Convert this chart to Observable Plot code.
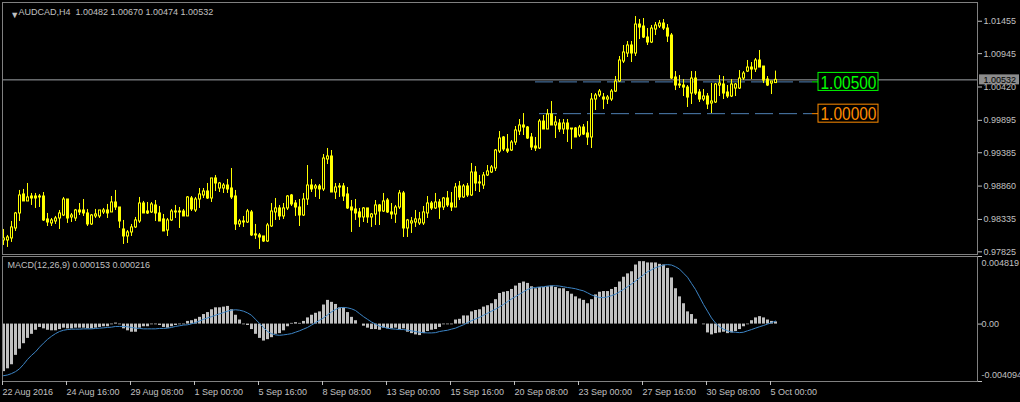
<!DOCTYPE html>
<html>
<head>
<meta charset="utf-8">
<script src="https://cdn.jsdelivr.net/npm/d3@7"></script>
<script src="https://cdn.jsdelivr.net/npm/@observablehq/plot@0.6"></script>
<style>
  html, body { margin: 0; padding: 0; background: #000; }
  #chart { position: relative; width: 1020px; height: 402px; background: #000; overflow: hidden; }
  #chart svg { display: block; }
</style>
</head>
<body>
<div id="chart"></div>
<script>
// ---------- DATA (AUDCAD, H4) ----------
const symbol = "AUDCAD";
const timeframe = "H4";

const open = [
0.98004,0.98004,0.98036,0.98193,0.98429,0.98728,0.98618,0.98696,0.98696,0.98696,
0.98696,0.98335,0.98272,0.98303,0.98350,0.98397,0.98649,0.98366,0.98350,0.98476,
0.98476,0.98429,0.98256,0.98382,0.98382,0.98445,0.98476,0.98445,0.98602,0.98523,
0.98177,0.98067,0.98130,0.98209,0.98303,0.98586,0.98460,0.98445,0.98555,0.98429,
0.98335,0.98161,0.98319,0.98445,0.98460,0.98460,0.98382,0.98665,0.98476,0.98649,
0.98712,0.98775,0.98665,0.98980,0.98822,0.98822,0.98869,0.98822,0.98696,0.98256,
0.98287,0.98287,0.98445,0.98083,0.98083,0.98067,0.97988,0.98224,0.98445,0.98508,
0.98382,0.98508,0.98712,0.98586,0.98523,0.98397,0.98649,0.98869,0.98822,0.98854,
0.98807,0.99279,0.99326,0.98759,0.98838,0.98854,0.98728,0.98523,0.98492,0.98445,
0.98366,0.98508,0.98366,0.98413,0.98555,0.98460,0.98633,0.98445,0.98413,0.98523,
0.98744,0.98193,0.98272,0.98287,0.98272,0.98272,0.98429,0.98586,0.98508,0.98602,
0.98523,0.98665,0.98586,0.98523,0.98854,0.98681,0.98854,0.98712,0.99074,0.98901,
0.98869,0.99027,0.99074,0.99137,0.99404,0.99625,0.99436,0.99420,0.99546,0.99719,
0.99814,0.99782,0.99625,0.99483,0.99452,0.99876,0.99751,0.99987,0.99814,0.99845,
0.99751,0.99845,0.99766,0.99766,0.99656,0.99782,0.99688,0.99625,1.00223,1.00286,
1.00254,1.00223,1.00223,1.00348,1.00506,1.00821,1.00947,1.01073,1.00947,1.01403,
1.01372,1.01199,1.01120,1.01325,1.01372,1.01419,1.01340,1.01230,1.00569,1.00443,
1.00443,1.00411,1.00317,1.00553,1.00333,1.00223,1.00270,1.00160,1.00176,1.00443,
1.00459,1.00333,1.00270,1.00396,1.00396,1.00553,1.00663,1.00726,1.00695,1.00837,
1.00742,1.00537,1.00474,1.00482];

const high = [
0.98177,0.98083,0.98303,0.98445,0.98791,0.98807,0.98901,0.98744,0.98744,0.98728,
0.98759,0.98429,0.98350,0.98382,0.98476,0.98681,0.98649,0.98429,0.98492,0.98586,
0.98649,0.98492,0.98413,0.98492,0.98476,0.98508,0.98571,0.98696,0.98791,0.98523,
0.98319,0.98161,0.98256,0.98366,0.98681,0.98618,0.98602,0.98602,0.98633,0.98539,
0.98413,0.98350,0.98492,0.98555,0.98523,0.98492,0.98696,0.98696,0.98681,0.98822,
0.98822,0.98901,0.98980,0.99027,0.98917,0.98901,0.98964,0.99137,0.98791,0.98335,
0.98382,0.98492,0.98476,0.98256,0.98114,0.98067,0.98272,0.98586,0.98665,0.98555,
0.98586,0.98712,0.98728,0.98633,0.98649,0.98744,0.99184,0.98964,0.98885,0.98885,
0.99357,0.99452,0.99420,0.98901,0.98901,0.98901,0.98838,0.98633,0.98649,0.98508,
0.98523,0.98508,0.98429,0.98633,0.98571,0.98744,0.98665,0.98586,0.98555,0.98791,
0.98775,0.98335,0.98366,0.98476,0.98445,0.98539,0.98696,0.98618,0.98744,0.98649,
0.98681,0.98775,0.98759,0.98901,0.98932,0.98885,0.98901,0.99216,0.99168,0.99027,
0.99074,0.99184,0.99184,0.99436,0.99719,0.99640,0.99672,0.99577,0.99798,0.99908,
1.00002,0.99798,0.99688,0.99625,0.99908,0.99971,1.00065,1.00191,0.99955,0.99908,
0.99908,0.99908,0.99766,0.99782,0.99814,0.99829,0.99876,1.00317,1.00317,1.00380,
1.00317,1.00286,1.00380,1.00585,1.00900,1.01073,1.01136,1.01136,1.01529,1.01482,
1.01498,1.01340,1.01388,1.01435,1.01466,1.01482,1.01403,1.01262,1.00663,1.00600,
1.00537,1.00443,1.00663,1.00663,1.00380,1.00380,1.00317,1.00474,1.00474,1.00600,
1.00585,1.00443,1.00537,1.00474,1.00679,1.00663,1.00837,1.00805,1.00868,1.00994,
1.00742,1.00585,1.00506,1.00670];

const low = [
0.97925,0.97894,0.97973,0.98146,0.98303,0.98618,0.98618,0.98555,0.98508,0.98523,
0.98303,0.98224,0.98224,0.98256,0.98177,0.98382,0.98272,0.98287,0.98303,0.98397,
0.98382,0.98224,0.98240,0.98350,0.98350,0.98413,0.98350,0.98445,0.98476,0.98193,
0.97941,0.97957,0.98067,0.98193,0.98272,0.98429,0.98413,0.98429,0.98303,0.98303,
0.98146,0.98067,0.98303,0.98350,0.98193,0.98382,0.98382,0.98460,0.98445,0.98508,
0.98665,0.98649,0.98602,0.98775,0.98759,0.98744,0.98744,0.98649,0.98161,0.98209,
0.98209,0.98272,0.98067,0.98020,0.97862,0.97973,0.97973,0.98209,0.98319,0.98319,
0.98335,0.98476,0.98539,0.98382,0.98224,0.98382,0.98555,0.98759,0.98681,0.98649,
0.98775,0.99200,0.98759,0.98649,0.98681,0.98618,0.98492,0.98130,0.98319,0.98209,
0.98287,0.98272,0.98209,0.98240,0.98240,0.98445,0.98429,0.98335,0.98272,0.98492,
0.98051,0.98051,0.98114,0.98209,0.98240,0.98240,0.98350,0.98476,0.98492,0.98335,
0.98476,0.98523,0.98460,0.98523,0.98633,0.98665,0.98681,0.98696,0.98775,0.98759,
0.98807,0.99011,0.99058,0.99090,0.99373,0.99404,0.99373,0.99404,0.99499,0.99656,
0.99656,0.99593,0.99420,0.99404,0.99436,0.99751,0.99751,0.99814,0.99609,0.99703,
0.99672,0.99546,0.99436,0.99625,0.99625,0.99656,0.99499,0.99452,1.00050,1.00254,
1.00065,1.00144,1.00191,1.00333,1.00490,1.00789,1.00884,1.00805,1.00900,1.01167,
1.01183,1.01073,1.01104,1.01230,1.01340,1.01309,1.01120,1.00537,1.00364,1.00396,
1.00270,1.00097,1.00144,1.00286,1.00176,1.00191,1.00065,1.00002,1.00160,1.00270,
1.00223,1.00238,1.00254,1.00270,1.00380,1.00522,1.00648,1.00537,1.00648,1.00726,
1.00474,1.00427,1.00301,1.00474];

const close = [
0.98036,0.98051,0.98209,0.98429,0.98712,0.98618,0.98681,0.98665,0.98665,0.98681,
0.98319,0.98287,0.98319,0.98350,0.98429,0.98649,0.98350,0.98397,0.98476,0.98445,
0.98429,0.98256,0.98397,0.98413,0.98476,0.98476,0.98429,0.98602,0.98523,0.98303,
0.98067,0.98130,0.98209,0.98319,0.98586,0.98429,0.98429,0.98571,0.98429,0.98303,
0.98146,0.98319,0.98460,0.98460,0.98445,0.98382,0.98681,0.98492,0.98649,0.98728,
0.98775,0.98665,0.98980,0.98901,0.98901,0.98869,0.98807,0.98681,0.98256,0.98303,
0.98303,0.98460,0.98083,0.98099,0.98051,0.97988,0.98240,0.98460,0.98508,0.98382,
0.98508,0.98696,0.98571,0.98523,0.98397,0.98649,0.98869,0.98807,0.98854,0.98807,
0.99294,0.99326,0.98759,0.98838,0.98854,0.98696,0.98508,0.98476,0.98429,0.98366,
0.98508,0.98366,0.98413,0.98555,0.98460,0.98618,0.98445,0.98413,0.98523,0.98744,
0.98193,0.98319,0.98303,0.98335,0.98335,0.98445,0.98586,0.98508,0.98602,0.98523,
0.98665,0.98555,0.98523,0.98838,0.98681,0.98854,0.98712,0.99074,0.98901,0.98917,
0.99027,0.99090,0.99153,0.99420,0.99609,0.99436,0.99404,0.99546,0.99735,0.99814,
0.99782,0.99609,0.99467,0.99452,0.99876,0.99751,0.99987,0.99814,0.99861,0.99751,
0.99845,0.99751,0.99751,0.99625,0.99782,0.99672,0.99625,1.00223,1.00286,1.00348,
1.00223,1.00254,1.00348,1.00506,1.00837,1.00963,1.01073,1.00947,1.01403,1.01356,
1.01199,1.01120,1.01340,1.01388,1.01419,1.01340,1.01214,1.00553,1.00443,1.00459,
1.00411,1.00254,1.00553,1.00317,1.00223,1.00270,1.00144,1.00191,1.00459,1.00474,
1.00317,1.00270,1.00459,1.00459,1.00553,1.00632,1.00726,1.00695,1.00837,1.00726,
1.00522,1.00443,1.00506,1.00532];

// MACD(12,26,9): histogram (main) and signal line
const macdMain = [
-0.00339,-0.00319,-0.00290,-0.00223,-0.00179,-0.00140,-0.00102,-0.00073,-0.00044,-0.00024,
-0.00034,-0.00044,-0.00048,-0.00048,-0.00039,-0.00029,-0.00034,-0.00034,-0.00029,-0.00029,
-0.00029,-0.00034,-0.00034,-0.00029,-0.00024,-0.00019,-0.00019,-0.00005,0.00007,-0.00005,
-0.00034,-0.00048,-0.00058,-0.00058,-0.00029,-0.00019,-0.00019,-0.00005,-0.00005,-0.00010,
-0.00024,-0.00029,-0.00019,-0.00010,-0.00005,-0.00005,0.00019,0.00024,0.00034,0.00048,
0.00068,0.00082,0.00102,0.00116,0.00116,0.00121,0.00126,0.00102,0.00063,0.00029,
-0.00005,-0.00010,-0.00039,-0.00073,-0.00102,-0.00121,-0.00111,-0.00097,-0.00073,-0.00068,
-0.00048,-0.00019,0.00005,0.00010,0.00005,0.00019,0.00044,0.00063,0.00077,0.00087,
0.00136,0.00169,0.00155,0.00140,0.00116,0.00116,0.00082,0.00048,0.00024,0.00000,
-0.00015,-0.00029,-0.00039,-0.00039,-0.00044,-0.00029,-0.00034,-0.00034,-0.00029,-0.00039,
-0.00034,-0.00058,-0.00068,-0.00077,-0.00082,-0.00068,-0.00053,-0.00044,-0.00039,-0.00024,
-0.00005,-0.00005,-0.00005,0.00029,0.00034,0.00058,0.00058,0.00087,0.00097,0.00102,
0.00121,0.00131,0.00145,0.00174,0.00218,0.00227,0.00232,0.00247,0.00271,0.00290,
0.00300,0.00290,0.00266,0.00252,0.00261,0.00261,0.00266,0.00271,0.00261,0.00252,
0.00252,0.00232,0.00213,0.00194,0.00179,0.00169,0.00145,0.00174,0.00208,0.00227,
0.00232,0.00232,0.00247,0.00261,0.00300,0.00334,0.00358,0.00373,0.00421,0.00445,
0.00445,0.00436,0.00436,0.00436,0.00426,0.00421,0.00397,0.00329,0.00252,0.00194,
0.00145,0.00087,0.00068,0.00034,0.00000,-0.00005,-0.00063,-0.00077,-0.00068,-0.00063,
-0.00058,-0.00068,-0.00063,-0.00053,-0.00039,-0.00019,-0.00005,0.00024,0.00044,0.00053,
0.00044,0.00029,0.00019,0.000153];

const macdSignal = [
-0.00368,-0.00363,-0.00353,-0.00339,-0.00319,-0.00288,-0.00252,-0.00223,-0.00198,-0.00165,
-0.00136,-0.00109,-0.00087,-0.00068,-0.00053,-0.00044,-0.00039,-0.00036,-0.00036,-0.00036,
-0.00034,-0.00034,-0.00034,-0.00031,-0.00029,-0.00027,-0.00024,-0.00022,-0.00017,-0.00017,
-0.00017,-0.00019,-0.00024,-0.00029,-0.00031,-0.00034,-0.00034,-0.00034,-0.00034,-0.00031,
-0.00031,-0.00029,-0.00024,-0.00017,-0.00012,-0.00007,-0.00005,0.00002,0.00010,0.00022,
0.00034,0.00044,0.00053,0.00063,0.00073,0.00082,0.00092,0.00099,0.00102,0.00099,
0.00092,0.00080,0.00063,0.00034,0.00005,-0.00024,-0.00053,-0.00068,-0.00077,-0.00080,
-0.00077,-0.00073,-0.00068,-0.00058,-0.00048,-0.00036,-0.00024,-0.00007,0.00010,0.00027,
0.00044,0.00065,0.00087,0.00104,0.00116,0.00119,0.00116,0.00109,0.00097,0.00075,
0.00053,0.00034,0.00015,0.00000,-0.00015,-0.00022,-0.00029,-0.00034,-0.00036,-0.00039,
-0.00039,-0.00044,-0.00048,-0.00053,-0.00058,-0.00061,-0.00063,-0.00063,-0.00061,-0.00053,
-0.00048,-0.00044,-0.00036,-0.00029,-0.00017,-0.00005,0.00010,0.00024,0.00036,0.00048,
0.00063,0.00077,0.00092,0.00106,0.00123,0.00140,0.00160,0.00179,0.00196,0.00213,
0.00230,0.00247,0.00257,0.00261,0.00264,0.00266,0.00271,0.00273,0.00273,0.00271,
0.00266,0.00261,0.00257,0.00252,0.00244,0.00237,0.00223,0.00208,0.00198,0.00189,
0.00189,0.00194,0.00203,0.00213,0.00230,0.00247,0.00266,0.00286,0.00307,0.00329,
0.00351,0.00373,0.00387,0.00402,0.00411,0.00421,0.00424,0.00421,0.00409,0.00392,
0.00363,0.00334,0.00290,0.00247,0.00194,0.00140,0.00092,0.00044,0.00007,-0.00019,
-0.00036,-0.00048,-0.00056,-0.00058,-0.00061,-0.00058,-0.00048,-0.00039,-0.00029,-0.00019,
-0.00010,0.00000,0.00010,0.000216];

const priceTicks = [1.01455, 1.00945, 1.00420, 0.99895, 0.99385, 0.98860, 0.98335, 0.97825];
const macdRange = [-0.004094, 0.004819];
const timeTickBars = [0, 16, 32, 48, 64, 80, 96, 112, 128, 144, 160, 176, 192];
const timeTickLabels = ["22 Aug 2016", "24 Aug 16:00", "29 Aug 08:00", "1 Sep 00:00", "5 Sep 16:00",
  "8 Sep 08:00", "13 Sep 00:00", "15 Sep 16:00", "20 Sep 08:00", "23 Sep 00:00",
  "27 Sep 16:00", "30 Sep 08:00", "5 Oct 00:00"];

// Horizontal levels (price, first bar of the line, colour)
const levelPrices = [1.00500, 1.00000];
const levelStartBars = [133, 134];
const levelColors = ["#00ff00", "#ff8c00"];

// ---------- LAYOUT ----------
const FONT = "'Liberation Sans', Arial, sans-serif";
const xDomain = [-0.25, 243.5];
const priceDomain = [0.97783, 1.01750];
const lineEndBar = 202.25, boxStartBar = 203.75, boxEndBar = 218.75;
const textColor = "#c0c0c0", frameColor = "#808080";

const N = close.length;
const candles = close.map((c, i) => ({i, o: open[i], h: high[i], l: low[i], c}));
const bulls = candles.filter(d => d.c - d.o > 0.00018);
const last = candles[N - 1];
const levels = levelPrices.map((v, k) => ({v, start: levelStartBars[k], color: levelColors[k], label: v.toFixed(5)}));
const header = `${symbol},${timeframe}  ${last.o.toFixed(5)} ${last.h.toFixed(5)} ${last.l.toFixed(5)} ${last.c.toFixed(5)}`;

const levelMarks = levels.flatMap(L => [
  Plot.ruleY([L], {y: "v", x1: d => d.start, x2: () => lineEndBar, stroke: "#4f81b5", strokeDasharray: "18,6"}),
  Plot.ruleY([L], {y: "v", x1: () => lineEndBar, x2: () => boxStartBar, stroke: L.color}),
  Plot.rect([L], {x1: () => boxStartBar, x2: () => boxEndBar, y1: "v", y2: "v", insetTop: -9, insetBottom: -9, fill: "#000", stroke: L.color}),
  Plot.text([L], {x: () => (boxStartBar + boxEndBar) / 2, y: "v", text: "label", fill: L.color, fontSize: 18, dy: 1})
]);

const main = Plot.plot({
  width: 1020, height: 255,
  marginTop: 2, marginBottom: 1, marginLeft: 2, marginRight: 43,
  style: {background: "#000", color: textColor, fontFamily: FONT, fontSize: "9px", overflow: "visible"},
  x: {domain: xDomain, axis: null},
  y: {domain: priceDomain, label: null},
  marks: [
    Plot.ruleY([last.c], {stroke: "#a0a4a8"}),
    ...levelMarks,
    Plot.ruleX(candles, {x: "i", y1: "l", y2: "h", stroke: "#ffff00"}),
    Plot.rect(candles, {x1: d => d.i - 0.25, x2: d => d.i + 0.5, y1: "o", y2: "c", fill: "#ffff00", insetTop: -0.5, insetBottom: -0.5}),
    Plot.rect(bulls, {x1: d => d.i - 0.25, x2: d => d.i + 0.5, y1: "o", y2: "c", fill: "#000", insetLeft: 1, insetRight: 1, insetTop: 0.5, insetBottom: 0.5}),
    Plot.frame({stroke: frameColor}),
    Plot.axisY({anchor: "right", ticks: priceTicks, tickFormat: d => d.toFixed(5), tickSize: 4, tickPadding: 2, label: null}),
    Plot.rect([last.c], {y1: d => d, y2: d => d, insetTop: -5, insetBottom: -5, insetLeft: 977, insetRight: -42, fill: "#8c8c8c"}),
    Plot.text([last.c], {y: d => d, text: d => d.toFixed(5), frameAnchor: "right", dx: 6, textAnchor: "start", fill: "#000"}),
    Plot.text(["\u25BC"], {frameAnchor: "top-left", dx: 7.7, dy: 8.7, fontSize: 9, fill: textColor}),
    Plot.text([header], {frameAnchor: "top-left", dx: 16, dy: 6, textAnchor: "start", lineAnchor: "top", fill: textColor})
  ]
});

const macd = macdMain.map((h, i) => ({i, h, s: macdSignal[i]}));
const macdHeader = `MACD(12,26,9) ${macdMain[N - 1].toFixed(6)} ${macdSignal[N - 1].toFixed(6)}`;
const macdLabels = [
  {v: macdRange[1], t: macdRange[1].toFixed(6), dy: 7},
  {v: 0, t: "0.00", dy: 0},
  {v: macdRange[0], t: macdRange[0].toFixed(6), dy: -6}
];

const lower = Plot.plot({
  width: 1020, height: 147,
  marginTop: 1, marginBottom: 21, marginLeft: 2, marginRight: 43,
  style: {background: "#000", color: textColor, fontFamily: FONT, fontSize: "9px", overflow: "visible"},
  x: {domain: xDomain},
  y: {domain: macdRange, label: null},
  marks: [
    Plot.rect(macd, {x1: d => d.i - 0.25, x2: d => d.i + 0.5, y1: () => 0, y2: "h", fill: "#c0c0c0"}),
    Plot.line(macd, {x: "i", y: "s", stroke: "#3d85c6", strokeWidth: 1}),
    Plot.frame({stroke: frameColor}),
    Plot.axisX({anchor: "bottom", ticks: timeTickBars, tickFormat: d => timeTickLabels[timeTickBars.indexOf(d)],
      textAnchor: "start", tickSize: 4, tickPadding: 3, dx: -1, label: null}),
    Plot.axisY({anchor: "right", ticks: macdLabels.map(d => d.v), tickFormat: () => "", tickSize: 4, label: null}),
    ...macdLabels.map(L => Plot.text([L], {y: "v", text: "t", frameAnchor: "right", dx: 4, dy: L.dy, textAnchor: "start", fill: textColor})),
    Plot.text([macdHeader], {frameAnchor: "top-left", dx: 5, dy: 5.5, textAnchor: "start", lineAnchor: "top", fill: textColor})
  ]
});

const root = document.getElementById("chart");
root.appendChild(main);
root.appendChild(lower);

// condensed look of the level labels
main.querySelectorAll("text").forEach(t => {
  if (levels.some(L => L.label === t.textContent)) {
    t.setAttribute("textLength", "56");
    t.setAttribute("lengthAdjust", "spacingAndGlyphs");
  }
});
</script>
</body>
</html>
